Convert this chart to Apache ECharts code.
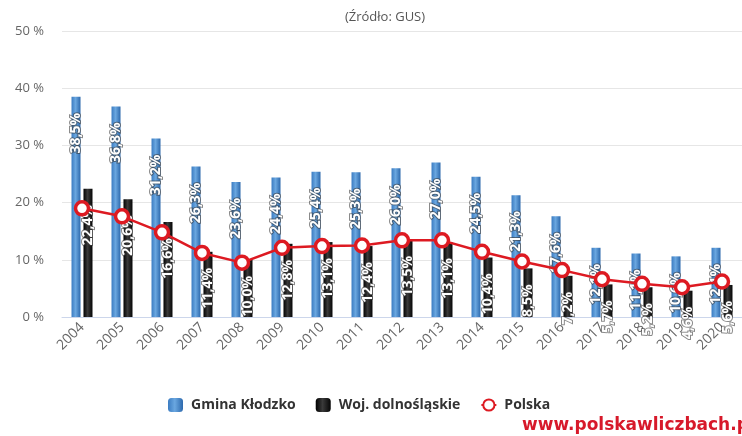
<!DOCTYPE html>
<html>
<head>
<meta charset="utf-8">
<script src="https://cdn.jsdelivr.net/npm/echarts@6/dist/echarts.min.js"></script>
<style>html,body{margin:0;padding:0;background:#fff;}#c{width:742px;height:436px;}</style>
</head>
<body>
<div id="c"></div>
<script>
const years = ['2004','2005','2006','2007','2008','2009','2010','2011','2012','2013','2014','2015','2016','2017','2018','2019','2020'];
const gmina = [38.5, 36.8, 31.2, 26.3, 23.6, 24.4, 25.4, 25.3, 26.0, 27.0, 24.5, 21.3, 17.6, 12.1, 11.1, 10.6, 12.1];
const woj = [22.4, 20.6, 16.6, 11.4, 10.0, 12.8, 13.1, 12.4, 13.5, 13.1, 10.4, 8.5, 7.2, 5.7, 5.2, 4.6, 5.6];
const polska = [19.0, 17.6, 14.8, 11.2, 9.5, 12.1, 12.4, 12.5, 13.4, 13.4, 11.4, 9.7, 8.2, 6.6, 5.8, 5.2, 6.2];
const yTicks = [0, 10, 20, 30, 40, 50];

const FONT = '"Open Sans", "DejaVu Sans", sans-serif';
const chart = echarts.init(document.getElementById('c'));
const fmt = v => v.toFixed(1).replace('.', ',') + '%';
const barLabel = {
  show: true,
  position: 'insideTop',
  distance: 16,
  rotate: 90,
  align: 'right',
  verticalAlign: 'middle',
  color: '#fff',
  fontFamily: FONT,
  fontWeight: 'bold',
  fontSize: 14,
  textBorderColor: 'rgba(60,60,60,0.6)',
  textBorderWidth: 2,
  formatter: p => fmt(p.value)
};
chart.setOption({
  animation: false,
  backgroundColor: '#fff',
  textStyle: { fontFamily: FONT },
  title: {
    text: '(Źródło: GUS)',
    left: 380, top: 6, textAlign: 'center',
    textStyle: { color: '#555', fontSize: 13, fontWeight: 'normal', fontFamily: FONT }
  },
  legend: {
    left: 163, top: 393,
    itemWidth: 15, itemHeight: 14, itemGap: 20,
    textStyle: { color: '#333', fontSize: 14, fontWeight: 'bold', fontFamily: FONT, padding: [0, 0, 0, 3] },
    data: ['Gmina Kłodzko', 'Woj. dolnośląskie', 'Polska']
  },
  graphic: [{
    type: 'text', left: 522, top: 417,
    style: { text: 'www.polskawliczbach.pl', fill: '#d7192a', font: 'bold 17px "DejaVu Sans", sans-serif' }
  }],
  grid: { left: 62, top: 31, width: 690, height: 286 },
  xAxis: {
    type: 'category', data: years,
    axisLine: { lineStyle: { color: '#ccd6eb' } },
    axisTick: { length: 10, lineStyle: { color: '#ccd6eb' } },
    axisLabel: { rotate: 45, color: '#666', fontSize: 14, margin: 8 }
  },
  yAxis: {
    type: 'value', min: 0, max: 50, interval: 10,
    axisLine: { show: false }, axisTick: { show: false },
    splitLine: { lineStyle: { color: '#e6e6e6' } },
    axisLabel: { color: '#666', fontSize: 13, margin: 18, formatter: v => yTicks.includes(v) ? v + ' %' : '' }
  },
  series: [
    {
      name: 'Gmina Kłodzko', type: 'bar', data: gmina, barWidth: 9, barGap: '33%',
      itemStyle: { color: new echarts.graphic.LinearGradient(0, 0, 1, 0, [
        { offset: 0, color: '#3b7cc2' }, { offset: 0.45, color: '#6aa7e0' }, { offset: 1, color: '#2d69ad' }]) },
      label: barLabel, z: 2
    },
    {
      name: 'Woj. dolnośląskie', type: 'bar', data: woj, barWidth: 9,
      itemStyle: { color: new echarts.graphic.LinearGradient(0, 0, 1, 0, [
        { offset: 0, color: '#000' }, { offset: 0.45, color: '#3a3a3a' }, { offset: 1, color: '#050505' }]) },
      label: barLabel, z: 2
    },
    {
      name: 'Polska', type: 'line', data: polska,
      symbol: 'circle', symbolSize: 13,
      lineStyle: { color: '#dd1a22', width: 2.5 },
      itemStyle: { color: '#fff', borderColor: '#dd1a22', borderWidth: 3.5 },
      z: 3
    }
  ]
});
</script>
</body>
</html>
